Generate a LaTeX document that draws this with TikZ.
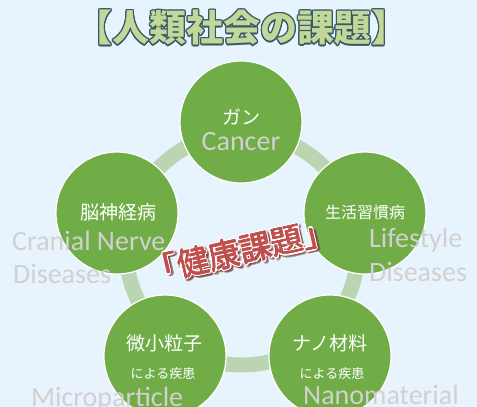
\documentclass[tikz,border=0pt]{standalone}
\usepackage{fontspec}
\setmainfont{Carlito}
\newfontfamily\jp{Noto Sans CJK JP}
\definecolor{bg}{RGB}{231,244,253}
\definecolor{leaf}{RGB}{112,173,71}
\definecolor{ringc}{RGB}{187,213,179}
\definecolor{ghost}{RGB}{210,208,208}
\definecolor{titlefill}{RGB}{196,215,155}
\definecolor{titleline}{RGB}{52,88,100}
\definecolor{healthred}{RGB}{192,80,77}
\definecolor{shade}{RGB}{120,60,60}
\begin{document}
\begin{tikzpicture}[x=1pt,y=-1pt,
  disc/.style={circle,fill=leaf,draw=white,line width=1.2pt,minimum size=122pt,inner sep=0pt},
  jpw/.style={font=\jp\fontsize{19}{19}\selectfont,text=white,inner sep=0pt},
  jpm/.style={font=\jp\fontsize{16}{16}\selectfont,text=white,inner sep=0pt},
  jps/.style={font=\jp\fontsize{13}{13}\selectfont,text=white,inner sep=0pt},
  en/.style={font=\fontsize{28}{33}\selectfont,text=ghost,inner sep=0pt},
  titlestyle/.style={font=\jp\bfseries\fontsize{37}{37}\selectfont,inner sep=0pt},
  healthstyle/.style={font=\jp\fontsize{32}{32}\selectfont,inner sep=0pt,rotate=13}]
\fill[bg] (0,0) rectangle (477,407);
\useasboundingbox (0,0) rectangle (477,407);
% ring
\coordinate (ringcenter) at (242,249);
\draw[ringc,line width=15pt] (ringcenter) circle[radius=116];
% discs
\node[disc] (cancerdisc) at (241,122) {};
\node[disc] (lifedisc) at (365,213) {};
\node[disc] (nanodisc) at (330,356) {};
\node[disc] (microdisc) at (165,356) {};
\node[disc] (nervedisc) at (117,213) {};
% japanese labels
\node[jpw] (gan) at (241,117) {ガン};
\node[jpm] (seikatsu) at (365,212) {生活習慣病};
\node[jpw] (nano) at (330,343) {ナノ材料};
\node[jps] (nanob) at (332,374) {による疾患};
\node[jpw] (micro) at (164,343) {微小粒子};
\node[jps] (microb) at (163,374) {による疾患};
\node[jpw] (nou) at (118,212) {脳神経病};
% english ghost labels
\node[en,anchor=base] (cancer) at (241,150) {Cancer};
\node[en,anchor=base west] (cranial) at (12,250) {Cranial Nerve};
\node[en,anchor=base west] (cranialb) at (13,283) {Diseases};
\node[en,anchor=base west] (life) at (369,247) {Lifestyle};
\node[en,anchor=base west] (lifeb) at (369,281) {Diseases};
\node[en,anchor=base west] (microen) at (31,406) {Microparticle};
\node[en,anchor=base west] (nanoen) at (303,404) {Nanomaterial};
% title with outline
\foreach \a in {0,30,...,330}{
  \node[titlestyle,text=titleline,xshift={1.1*cos(\a)},yshift={1.1*sin(\a)}] (titleo\a) at (242,28) {【人類社会の課題】};
}
\node[titlestyle,text=titlefill] (title) at (242,28) {【人類社会の課題】};
% health label: shadow, white outline, red fill
\foreach \a in {0,30,...,330}{
  \node[healthstyle,text=shade,opacity=0.35,xshift={1.8+1.8*cos(\a)},yshift={-2.2+1.8*sin(\a)}] (healths\a) at (240,251) {「健康課題」};
}
\foreach \a in {0,30,...,330}{
  \node[healthstyle,text=white,xshift={1.6*cos(\a)},yshift={1.6*sin(\a)}] (healtho\a) at (240,251) {「健康課題」};
}
\foreach \a in {0,90,180,270}{
  \node[healthstyle,text=healthred,xshift={0.35*cos(\a)},yshift={0.35*sin(\a)}] (healthf\a) at (240,251) {「健康課題」};
}
\node[healthstyle,text=healthred] (health) at (240,251) {「健康課題」};
\end{tikzpicture}
\end{document}
